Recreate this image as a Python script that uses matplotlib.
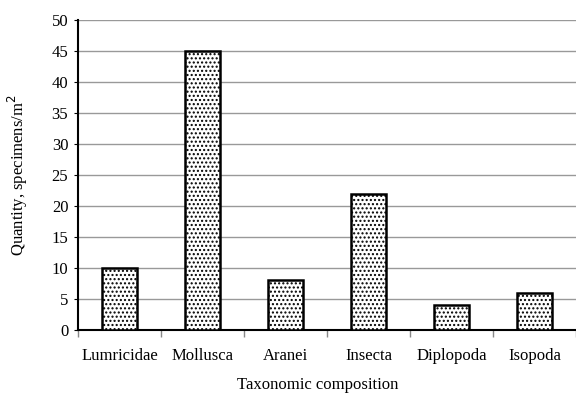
import matplotlib.pyplot as plt
import numpy as np

taxa = ['Lumricidae', 'Mollusca', 'Aranei', 'Insecta', 'Diplopoda', 'Isopoda']
quantity = [10, 45, 8, 22, 4, 6]
yticks = [0, 5, 10, 15, 20, 25, 30, 35, 40, 45, 50]

plt.rcParams['font.family'] = ['Liberation Serif', 'DejaVu Serif']
plt.rcParams['hatch.linewidth'] = 1.0

fig = plt.figure(figsize=(5.76, 3.94), dpi=100)
ax = fig.add_axes([78/576, 1 - 330/394, 1 - 78/576, 310/394])

x = np.arange(len(taxa))
ax.bar(x, quantity, width=0.41, color='white', edgecolor='black',
       linewidth=1.8, hatch='....', zorder=3)

ax.set_ylim(0, 50)
ax.set_xlim(-0.5, 5.47)
ax.set_yticks(yticks)
ax.set_xticks(x)
ax.set_xticklabels(taxa)
ax.set_xticks(np.arange(-0.5, 6, 1), minor=True)
ax.tick_params(axis='x', which='major', length=0, pad=13, labelsize=12)
ax.tick_params(axis='x', which='minor', length=5, color='#888888', width=1)
ax.tick_params(axis='y', length=3, labelsize=12, pad=4)
ax.grid(axis='y', color='#999999', linewidth=1, zorder=0)

for s in ['top', 'right']:
    ax.spines[s].set_visible(False)
ax.spines['left'].set_linewidth(1.5)
ax.spines['bottom'].set_linewidth(1.5)

fig.text(18/576, 1 - 175/394, 'Quantity, specimens/m$^2$', rotation=90,
         ha='center', va='center', fontsize=12)
fig.text(318/576, 1 - 385/394, 'Taxonomic composition', ha='center',
         va='center', fontsize=12)

plt.savefig('out.png', dpi=100)
